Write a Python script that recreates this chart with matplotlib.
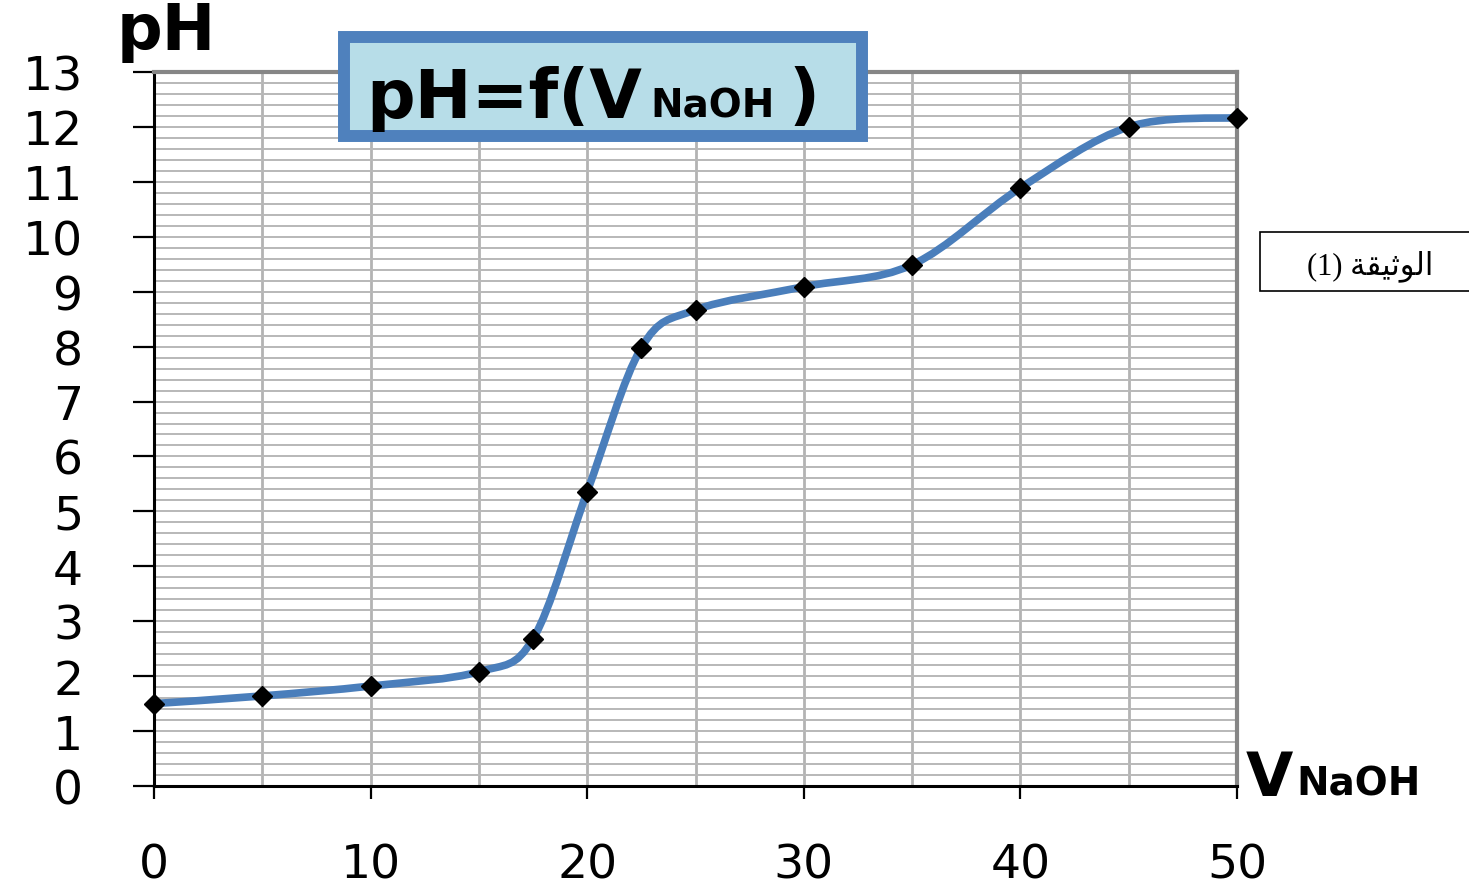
import matplotlib
matplotlib.use('Agg')
import matplotlib.pyplot as plt
from matplotlib.path import Path
from matplotlib.patches import PathPatch, Rectangle
from matplotlib.ticker import MultipleLocator
import numpy as np

v_naoh = [0, 5, 10, 15, 17.5, 20, 22.5, 25, 30, 35, 40, 45, 50]
ph = [1.50, 1.64, 1.82, 2.08, 2.68, 5.36, 7.98, 8.67, 9.09, 9.49, 10.89, 12.00, 12.17]
x_ticks = [0, 10, 20, 30, 40, 50]
y_ticks = list(range(0, 14))

# "الوثيقة (1)" - matplotlib ne fait pas le shaping arabe,
# donc on écrit les formes contextuelles dans l'ordre visuel
doc_label = '(1) ' + '\uFE94\uFED8\uFEF4\uFE9B\uFEEE\uFEDF\uFE8D'

W, H = 1469, 887


def px(x, y):
    """pixel (depuis le coin haut gauche) -> coordonnées figure"""
    return x / W, 1 - y / H


def smooth_path(xs, ys):
    """ligne lissée façon Excel (Bezier Catmull-Rom) passant par les points"""
    pts = np.column_stack([xs, ys]).astype(float)
    n = len(pts)
    verts = [pts[0]]
    codes = [Path.MOVETO]
    for i in range(n - 1):
        p0 = pts[i - 1] if i > 0 else pts[i]
        p3 = pts[i + 2] if i + 2 < n else pts[i + 1]
        c1 = pts[i] + (pts[i + 1] - p0) / 6
        c2 = pts[i + 1] - (p3 - pts[i]) / 6
        verts += [c1, c2, pts[i + 1]]
        codes += [Path.CURVE4] * 3
    return Path(verts, codes)


def text_row(x, y, parts, zorder=6):
    """textes bold alignés sur la même ligne de base, les uns après les autres"""
    renderer = fig.canvas.get_renderer()
    for s, size, gap in parts:
        t = fig.text(*px(x, y), s, fontsize=size, fontweight='bold',
                     ha='left', va='baseline', zorder=zorder)
        bb = t.get_window_extent(renderer)
        x = bb.x1 + gap


fig = plt.figure(figsize=(W / 100, H / 100), dpi=100)
ax = fig.add_axes([154 / W, 1 - 787 / H, (1237 - 154) / W, (787 - 73) / H])

ax.set_xlim(0, 50)
ax.set_ylim(0, 13)

ax.xaxis.set_minor_locator(MultipleLocator(5))
ax.yaxis.set_minor_locator(MultipleLocator(0.2))
ax.set_xticks(x_ticks)
ax.set_yticks(y_ticks)

ax.grid(True, axis='y', which='both', color='#B8B8B8', linewidth=1.4)
ax.grid(True, axis='x', which='both', color='#B3B3B3', linewidth=2.0)
ax.set_axisbelow(True)

ax.tick_params(axis='y', which='major', direction='out', length=15, width=1.6,
               pad=36, labelsize=34, colors='black')
ax.tick_params(axis='x', which='major', direction='out', length=9, width=1.6,
               pad=32, labelsize=34, colors='black')
ax.tick_params(which='minor', length=0)

for side in ['left', 'bottom']:
    ax.spines[side].set_color('black')
    ax.spines[side].set_linewidth(2.2)
for side in ['top', 'right']:
    ax.spines[side].set_color('#868686')
    ax.spines[side].set_linewidth(3.0)

# courbe lissée + points
curve = PathPatch(smooth_path(v_naoh, ph), fill=False, edgecolor='#4A7EBB',
                  linewidth=5.5, capstyle='round', joinstyle='round', zorder=3,
                  transform=ax.transData)
ax.add_patch(curve)
ax.plot(v_naoh, ph, linestyle='none', marker='D', markersize=10.5,
        color='black', zorder=4, clip_on=False)

# noms des axes
fig.text(*px(117, 50), 'pH', fontsize=46, fontweight='bold',
         ha='left', va='baseline')
text_row(1246, 796, [('V', 44, 3), ('NaOH', 28, 0)])

# cadre du titre
x0, y0 = px(344, 137)
x1, y1 = px(862, 38)
fig.patches.append(Rectangle((x0, y0), x1 - x0, y1 - y0, transform=fig.transFigure,
                             facecolor='#B7DDE8', edgecolor='#4F81BD',
                             linewidth=8.6, zorder=5))
text_row(366, 118, [('pH=f(V', 49, 9), ('NaOH', 28, 13), (')', 49, 0)])

# cadre "الوثيقة (1)"
bx0, by0 = px(1260, 292)
bx1, by1 = px(1480, 233)
fig.patches.append(Rectangle((bx0, by0), bx1 - bx0, by1 - by0, transform=fig.transFigure,
                             facecolor='white', edgecolor='black', linewidth=1.2,
                             clip_on=False, zorder=5))
fig.text(*px(1370, 266), doc_label, fontsize=22,
         family=['Liberation Serif', 'DejaVu Sans'],
         ha='center', va='center', zorder=6)

fig.savefig('out.png', dpi=100)
